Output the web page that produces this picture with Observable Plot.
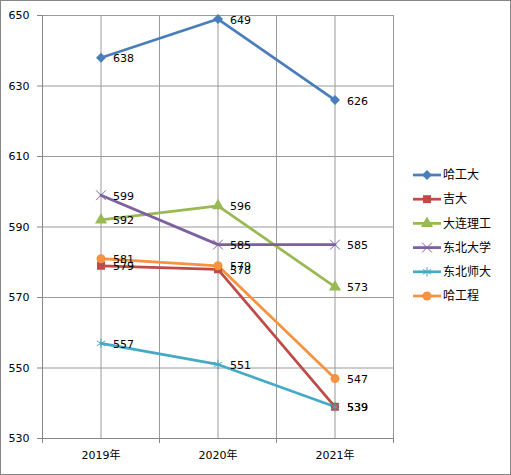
<!DOCTYPE html>
<html><head><meta charset="utf-8">
<script src="https://cdn.jsdelivr.net/npm/d3@7"></script>
<script src="https://cdn.jsdelivr.net/npm/@observablehq/plot@0.6"></script>
<style>
body{margin:0;background:#fff;}
#wrap{position:relative;width:511px;height:475px;}
#frame{position:absolute;left:0;top:0;width:509px;height:473px;border:1px solid #868686;pointer-events:none;}
</style></head>
<body><div id="wrap"><div id="frame"></div></div>
<script>
const years = ["2019年", "2020年", "2021年"];
const schools = ["哈工大", "吉大", "大连理工", "东北大学", "东北师大", "哈工程"];
const hgd = [638, 649, 626];
const jd = [579, 578, 539];
const dlg = [592, 596, 573];
const dbdx = [599, 585, 585];
const dbsd = [557, 551, 539];
const hgc = [581, 579, 547];
const seriesValues = [hgd, jd, dlg, dbdx, dbsd, hgc];
const colors = ["#4A7EBB", "#BE4B48", "#98B954", "#7D60A0", "#46AAC5", "#F69240"];
const symbols = ["diamond2", "square", "triangle", "times", "asterisk", "circle"];
const filled = [true, true, true, false, false, true];
const yTicks = [530, 550, 570, 590, 610, 630, 650];

const rows = [];
schools.forEach((s, i) => seriesValues[i].forEach((v, j) => rows.push({school: s, si: i, year: years[j], xi: j + 0.5, value: v})));

const font = "DejaVu Sans, Noto Sans CJK SC, sans-serif";
const grid = "#9a9a9a";
const marks = [
  Plot.ruleY(yTicks, {y: d => d, stroke: grid, strokeWidth: 1}),
  Plot.ruleX([0.5, 1, 1.5, 2, 2.5, 3], {x: d => d, stroke: grid, strokeWidth: 1}),
  Plot.axisY({ticks: yTicks, tickSize: 5, tickPadding: 8, fontSize: 11, stroke: "#868686", color: "#000", label: null}),
  Plot.axisX({ticks: [0, 1, 2, 3], tickSize: 5, tickFormat: () => "", stroke: "#868686", label: null}),
  Plot.axisX({ticks: [0.5, 1.5, 2.5], tickSize: 0, tickPadding: 13, tickFormat: d => years[Math.floor(d)], fontSize: 11, color: "#000", label: null}),
  Plot.ruleX([0], {stroke: "#868686"}),
  Plot.ruleY([530], {stroke: "#868686"})
];
schools.forEach((s, i) => {
  const data = rows.filter(r => r.si === i);
  marks.push(Plot.line(data, {x: "xi", y: "value", stroke: colors[i], strokeWidth: 2.75}));
});
schools.forEach((s, i) => {
  const data = rows.filter(r => r.si === i);
  marks.push(Plot.dot(data, {x: "xi", y: "value", symbol: () => symbols[i], r: 4.5,
    fill: filled[i] ? colors[i] : "none", stroke: filled[i] ? "none" : colors[i], strokeWidth: 1}));
});
marks.push(Plot.text(rows, {x: "xi", y: "value", text: d => String(d.value), dx: 12, dy: 1, textAnchor: "start", fontSize: 11, fill: "#000"}));

const chart = Plot.plot({
  width: 511, height: 475,
  marginLeft: 42, marginRight: 118, marginTop: 15, marginBottom: 37,
  style: {fontFamily: font, background: "transparent"},
  x: {type: "linear", domain: [0, 3], axis: null, label: null},
  y: {domain: [530, 650], axis: null, label: null},
  marks
});
document.getElementById("wrap").insertBefore(chart, document.getElementById("frame"));

// legend
const svg = d3.select(chart);
const lg = svg.append("g").attr("font-family", "Noto Sans CJK SC, sans-serif").attr("font-size", 12).attr("text-anchor", "start");
schools.forEach((s, i) => {
  const y = 175 + i * 24.2;
  const g = lg.append("g").attr("transform", `translate(0,${y})`);
  g.append("line").attr("x1", 413).attr("x2", 441).attr("y1", 0).attr("y2", 0).attr("stroke", colors[i]).attr("stroke-width", 2.75);
  const symMap = {diamond2: d3.symbolDiamond2, square: d3.symbolSquare, triangle: d3.symbolTriangle, times: d3.symbolTimes, asterisk: d3.symbolAsterisk, circle: d3.symbolCircle};
  g.append("path").attr("transform", "translate(427,0)").attr("d", d3.symbol(symMap[symbols[i]], Math.PI * 4.5 * 4.5)())
    .attr("fill", filled[i] ? colors[i] : "none").attr("stroke", filled[i] ? "none" : colors[i]);
  g.append("text").attr("x", 443).attr("y", 0).attr("dy", "0.35em").attr("fill", "#000").text(s);
});
</script></body></html>
